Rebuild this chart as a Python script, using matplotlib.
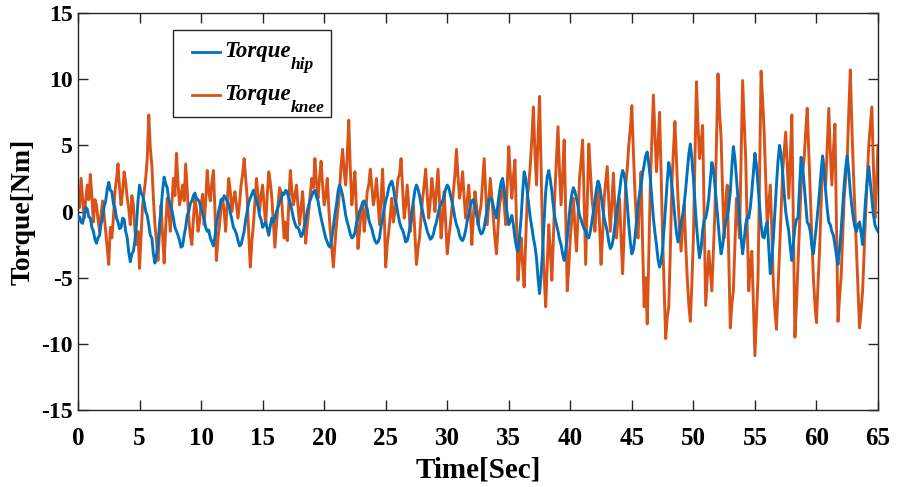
import numpy as np
import matplotlib
matplotlib.use("Agg")
import matplotlib.pyplot as plt
from matplotlib.lines import Line2D
from matplotlib.patches import Rectangle

t_start, t_end = 0.0, 65.0

torque_hip = [
    -0.6, -0.4, -0.8, -0.9, -0.3, 0.3, 0.2, -0.4,
    -0.5, -1.2, -1.5, -2.1, -2.4, -2.0, -1.8, -0.9,
    -0.5, 0.4, 0.8, 1.7, 2.2, 1.6, 1.5, 0.6,
    0.3, -0.5, -0.8, -1.3, -1.2, -0.5, -0.6, -1.5,
    -2.0, -3.1, -3.8, -3.2, -3.0, -2.2, -1.0, 0.8,
    2.0, 1.4, 1.2, 0.7, 0.0, -0.3, -1.0, -1.8,
    -2.0, -3.2, -3.9, -3.3, -2.5, -1.0, 0.2, 1.6,
    2.6, 2.1, 1.8, 0.9, 0.5, 0.1, -0.5, -1.2,
    -1.5, -1.8, -2.2, -2.7, -2.6, -1.8, -1.2, -0.3,
    0.0, 0.6, 0.8, 1.2, 1.4, 1.0, 0.9, 0.7,
    0.2, -0.1, -0.6, -1.2, -1.5, -1.4, -2.0, -2.3,
    -2.6, -1.9, -1.0, -0.2, 0.3, 0.9, 0.8, 1.2,
    1.0, 0.8, 0.5, -0.1, -0.6, -1.2, -1.4, -1.7,
    -2.2, -2.6, -2.5, -2.0, -1.5, -0.6, 0.0, 0.7,
    1.0, 1.3, 1.6, 1.2, 0.8, 0.4, -0.3, -0.6,
    -1.2, -1.0, -0.8, -1.3, -1.8, -1.1, -0.5, -0.8,
    -0.5, 0.0, 0.3, 0.7, 0.9, 1.4, 1.3, 1.6,
    1.5, 1.0, 0.6, 0.1, -0.5, -0.9, -1.2, -1.2,
    -1.5, -1.9, -1.7, -1.2, -0.6, 0.0, 0.5, 0.9,
    1.2, 1.5, 1.6, 1.1, 0.8, 0.1, -0.5, -1.0,
    -1.5, -2.0, -2.3, -2.6, -2.7, -2.0, -1.2, -0.2,
    0.5, 1.5, 2.0, 1.7, 1.2, 0.5, -0.3, -0.8,
    -1.2, -1.7, -2.0, -1.9, -1.6, -0.9, -0.5, 0.0,
    0.3, 0.7, 0.8, 0.5, 0.2, -0.6, -1.0, -1.3,
    -1.8, -2.2, -2.4, -2.3, -2.0, -1.1, -0.5, 0.2,
    0.8, 1.2, 1.8, 2.1, 2.3, 1.8, 1.0, 0.5,
    -0.2, -0.8, -1.2, -1.4, -1.8, -2.3, -2.2, -1.7,
    -1.0, -0.1, 0.8, 1.6, 2.0, 1.7, 1.2, 0.5,
    0.0, -0.6, -1.0, -1.5, -1.8, -2.1, -2.0, -1.7,
    -1.2, -0.8, -0.2, 0.3, 0.6, 0.8, 1.2, 1.7,
    2.0, 1.8, 1.3, 0.8, 0.2, -0.5, -1.0, -1.3,
    -1.8, -2.1, -2.2, -1.9, -1.4, -0.7, -0.2, 0.4,
    0.8, 0.9, 0.5, -0.2, -0.8, -1.4, -1.7, -1.6,
    -1.2, -0.5, 0.2, 0.8, 1.0, 0.9, 0.4, -0.1,
    -0.5, 0.6, 1.5, 2.2, 2.5, 1.7, 0.8, -0.2,
    -1.0, -0.7, -0.3, -1.0, -2.0, -2.7, -3.0, -1.9,
    -0.5, 1.4, 3.0, 2.5, 1.5, 0.5, -0.5, -1.2,
    -2.0, -2.6, -3.5, -5.0, -6.2, -4.8, -3.0, -0.6,
    1.5, 2.6, 3.1, 2.4, 1.5, 0.4, -0.5, -1.0,
    -1.5, -2.1, -2.5, -3.2, -3.7, -3.0, -2.0, -0.7,
    0.5, 1.3, 1.8, 1.5, 1.0, 0.4, -0.3, -0.6,
    -1.0, -1.3, -1.5, -1.9, -2.0, -1.5, -0.8, 0.0,
    0.8, 1.7, 2.3, 2.0, 1.2, 0.3, -0.5, -1.0,
    -1.5, -2.3, -2.8, -2.6, -2.0, -1.0, -0.2, 0.7,
    1.5, 2.5, 3.1, 2.8, 2.0, 0.6, -1.0, -2.3,
    -3.2, -2.9, -2.0, -0.8, 0.5, 1.3, 2.0, 2.9,
    3.5, 4.2, 4.5, 3.6, 2.5, 1.0, -0.5, -1.6,
    -2.5, -3.6, -4.2, -3.8, -2.8, -1.2, 0.5, 2.3,
    3.7, 3.0, 2.0, 0.8, -0.5, -1.6, -2.3, -1.6,
    -0.8, -0.3, 0.5, 1.7, 3.0, 4.3, 5.1, 4.0,
    2.5, 0.8, -1.0, -2.4, -3.5, -2.8, -1.5, -0.6,
    -0.5, 0.1, 1.0, 2.4, 3.7, 3.2, 2.0, 0.6,
    -0.8, -2.1, -3.2, -2.6, -1.5, -0.7, -0.5, 0.4,
    1.5, 3.4, 4.9, 4.0, 2.5, 0.9, -0.5, -2.0,
    -3.2, -2.2, -1.0, -0.4, -0.5, 0.3, 1.5, 3.0,
    4.4, 3.5, 2.0, 0.4, -1.0, -1.9, -2.0, -1.2,
    -0.8, -2.8, -4.7, -3.6, -2.0, 0.0, 2.0, 3.8,
    5.0, 4.3, 3.0, 1.4, 0.0, -0.8, -1.5, -2.7,
    -3.7, -2.4, -1.2, -0.6, -0.5, 1.8, 4.1, 3.4,
    2.0, 0.5, -0.8, -1.0, -1.5, -2.6, -3.2, -2.1,
    -1.0, 0.2, 1.5, 3.0, 4.2, 3.0, 1.5, 0.2,
    -0.8, -1.0, -1.5, -1.8, -2.5, -3.3, -4.0, -2.8,
    -1.5, 0.2, 2.0, 3.3, 4.2, 3.0, 1.5, 0.4,
    -0.5, -1.2, -1.5, -1.0, -0.8, -1.6, -2.5, -0.8,
    1.0, 2.4, 3.4, 2.2, 1.0, -0.2, -1.0, -1.3,
    -1.5,
]

torque_knee = [
    1.5, 0.3, 2.5, 1.0, -0.5, 0.8, 2.0, 0.9,
    2.8, 1.2, -0.8, 0.9, 0.5, -0.6, -1.5, -0.2,
    0.8, -0.3, -1.5, -2.8, -4.0, -1.2, -2.0, -0.5,
    1.5, 2.4, 3.6, 1.8, 0.5, 1.5, 3.0, 2.2,
    1.0, 0.2, -1.0, 1.2, 0.5, -1.4, -2.5, -1.5,
    -4.3, -1.8, 0.5, 1.5, 2.5, 4.0, 7.3, 4.8,
    3.5, 1.0, -1.0, -2.2, -3.7, -1.5, 0.5, -1.8,
    -3.9, -1.2, 1.0, 0.2, -1.5, 0.6, 2.5, 1.2,
    4.4, 2.2, 0.5, 1.2, 2.0, 0.8, 3.6, 1.5,
    -0.5, -1.8, -2.5, -0.6, 1.0, 0.2, -1.5, -0.8,
    0.5, 1.3, -1.0, 0.8, 3.1, 1.5, 0.8, 2.2,
    3.1, 0.2, -3.7, -2.0, -1.0, 0.3, 1.0, 0.0,
    -1.5, 0.8, 2.5, 1.5, 0.0, 0.9, 1.5, 0.5,
    -0.5, 0.6, 2.0, 2.8, 4.0, 2.5, 1.0, -1.8,
    -4.2, -2.3, -1.0, 0.8, 2.5, 1.2, 0.0, 1.3,
    2.0, 0.4, -1.0, 1.2, 3.0, 2.2, 1.0, -0.9,
    -2.7, -1.0, 0.5, 1.8, 1.5, -0.3, -2.0, -0.8,
    -2.2, 0.6, 3.1, 1.6, 0.5, 1.2, 2.0, 0.4,
    -1.0, 0.3, 1.5, -0.5, -2.4, -1.0, 0.0, 1.4,
    2.5, 1.8, 4.0, 2.2, 1.0, 2.5, 3.8, 2.0,
    0.5, 1.2, 2.5, 0.3, -1.5, -2.8, -4.2, -2.5,
    -1.0, 0.2, 1.5, 3.5, 4.7, 3.0, 2.0, 4.2,
    6.9, 3.2, 0.5, 1.8, 3.0, 0.0, -2.8, -1.5,
    0.0, 0.6, -1.5, -0.2, 1.5, 2.0, 3.2, 1.8,
    0.5, 1.2, 2.5, 0.8, -1.0, 1.0, 3.2, 0.0,
    -4.2, -2.5, -1.5, -0.3, 1.0, -0.8, 0.0, 1.2,
    2.5, 2.8, 4.0, 1.8, -0.5, 0.5, 2.0, 0.4,
    -1.5, -0.2, 0.5, -1.8, -4.0, -2.8, -2.0, -0.4,
    1.0, 2.0, 3.2, 1.2, -0.5, 0.8, 2.5, 1.4,
    0.0, 1.6, 3.2, 0.8, -2.0, -0.5, 1.5, -0.8,
    -3.2, -2.0, -1.0, 0.2, 1.5, 2.8, 4.7, 2.6,
    1.0, 1.8, 3.0, 1.0, -0.5, 0.8, 2.0, 0.0,
    -2.5, -0.4, 1.5, 0.5, -1.0, -0.2, 0.5, 2.2,
    4.0, 1.5, -1.0, 0.8, 2.5, 1.0, -0.5, -2.0,
    -3.2, -1.2, 0.5, 1.2, 2.0, 0.6, -1.0, 2.0,
    4.9, 2.8, 1.0, 2.6, 3.9, -0.8, -5.2, -3.5,
    -2.0, -4.0, -5.7, -2.2, 1.0, 2.0, 3.5, 5.5,
    7.9, 4.5, 2.0, 5.5, 8.7, 3.2, -2.0, -4.8,
    -7.2, -4.0, -1.0, -3.0, -5.2, -2.0, 1.5, 4.0,
    6.4, 3.0, 0.5, 2.8, 5.4, 0.0, -6.0, -4.2,
    -2.0, -0.5, 1.0, -1.2, -3.0, -0.5, 2.5, 3.8,
    5.4, 0.8, -4.0, 0.5, 5.1, 3.2, 1.0, 0.0,
    -1.5, 0.5, 2.0, -1.0, -4.0, -1.8, 1.0, 2.2,
    3.4, 0.8, -1.5, 0.6, 2.9, 0.2, -2.0, -0.4,
    1.0, -2.0, -4.7, -1.5, 2.0, 3.2, 5.0, 6.2,
    8.0, 4.5, 1.5, -0.8, -2.0, 0.8, 3.0, -2.5,
    -7.2, -5.0, -8.5, -3.5, 2.0, 5.5, 8.8, 5.8,
    3.0, 5.0, 7.5, 3.0, -2.0, -5.8, -9.6, -8.0,
    -7.2, -3.0, 2.0, 4.5, 6.8, 4.0, 1.0, -1.2,
    -3.0, -1.0, 0.5, -2.5, -5.0, -7.0, -8.3, -5.5,
    -2.0, 4.0, 9.8, 6.5, 4.0, 5.2, 6.5, -0.5,
    -7.1, -5.0, -3.0, -4.5, -6.0, -3.0, 0.0, 5.2,
    10.4, 7.5, 5.6, 1.5, -2.0, 0.5, 2.0, -3.5,
    -8.8, -7.0, -6.0, -2.5, 1.0, -0.5, -2.0, 4.0,
    9.9, 7.0, 4.0, -1.0, -6.0, -4.0, -3.0, -7.0,
    -10.9, -8.0, -5.0, 2.5, 10.6, 8.5, 6.0, 2.5,
    -1.0, 0.5, 2.0, -1.5, -5.5, -7.5, -8.9, -6.0,
    -3.0, 0.0, 3.0, 4.5, 6.0, 3.5, 1.0, 4.0,
    7.3, -1.0, -9.5, -7.0, -4.0, -1.0, 2.0, 3.0,
    4.0, 6.0, 7.8, 4.5, 1.0, -2.0, -5.0, -7.0,
    -8.4, -5.5, -3.0, 0.5, 4.0, 3.0, 2.0, 5.0,
    7.8, 4.5, 2.0, 4.5, 6.6, -1.0, -8.3, -6.5,
    -5.0, -2.0, 1.0, 2.5, 4.0, 7.5, 10.7, 6.5,
    3.0, 0.0, -3.0, -6.0, -8.8, -7.5, -6.0, -3.0,
    0.0, 2.5, 5.0, 6.5, 7.9, 3.5, -0.5, 2.0,
    5.0,
]

x_ticks = [0, 5, 10, 15, 20, 25, 30, 35, 40, 45, 50, 55, 60, 65]
y_ticks = [-15, -10, -5, 0, 5, 10, 15]
x_label = "Time[Sec]"
y_label = "Torque[Nm]"
legend_main = ["Torque", "Torque"]
legend_sub = ["hip", "knee"]

hip_color = "#0072BD"
knee_color = "#D95319"

# ---- style ----
plt.rcParams["font.family"] = ["Liberation Serif", "DejaVu Serif"]
plt.rcParams["font.weight"] = "bold"
plt.rcParams["axes.unicode_minus"] = False

W, H = 898, 487
t = np.linspace(t_start, t_end, len(torque_hip))

fig = plt.figure(figsize=(W / 100, H / 100), dpi=100)
ax = fig.add_axes([78 / W, 1 - 410 / H, 800 / W, 397 / H])

ax.plot(t, torque_hip, color=hip_color, lw=2.1, zorder=3)
ax.plot(t, torque_knee, color=knee_color, lw=2.1, zorder=2)

ax.set_xlim(0, 65)
ax.set_ylim(-15, 15)
ax.set_xticks(x_ticks)
ax.set_yticks(y_ticks)
ax.tick_params(direction="in", length=7, width=1, top=True, right=True,
               colors="#262626", labelcolor="black")
ax.tick_params(axis="y", labelsize=17, pad=4)
ax.tick_params(axis="x", labelsize=18, pad=12)
for lab in ax.get_xticklabels() + ax.get_yticklabels():
    lab.set_fontweight("bold")
for s in ax.spines.values():
    s.set_color("#262626")
    s.set_linewidth(1.0)

ax.set_xlabel(x_label, fontsize=21, fontweight="bold", labelpad=5)
ax.set_ylabel(y_label, fontsize=20, fontweight="bold", labelpad=4)

# ---- legend drawn in figure pixel coordinates (MATLAB style) ----
def fx(px):
    return px / W

def fy(py):
    return 1 - py / H

box = Rectangle((fx(173), fy(117)), fx(331) - fx(173), fy(30) - fy(117),
                transform=fig.transFigure, facecolor="white",
                edgecolor="#262626", linewidth=1.0, zorder=5)
fig.add_artist(box)

rows = [(52, 57, hip_color), (95, 100, knee_color)]
fig.canvas.draw()
renderer = fig.canvas.get_renderer()
for (ly, base, col), main, sub in zip(rows, legend_main, legend_sub):
    fig.add_artist(Line2D([fx(192), fx(220)], [fy(ly), fy(ly)], color=col,
                          lw=2.0, transform=fig.transFigure, zorder=6))
    txt = fig.text(fx(224), fy(base), main, fontsize=16.5, fontweight="bold",
                   fontstyle="italic", va="baseline", ha="left", zorder=6)
    bb = txt.get_window_extent(renderer)
    fig.text(bb.x1 / W, fy(base + 12), sub, fontsize=12.5, fontweight="bold",
             fontstyle="italic", va="baseline", ha="left", zorder=6)

fig.savefig("out.png", dpi=100)
